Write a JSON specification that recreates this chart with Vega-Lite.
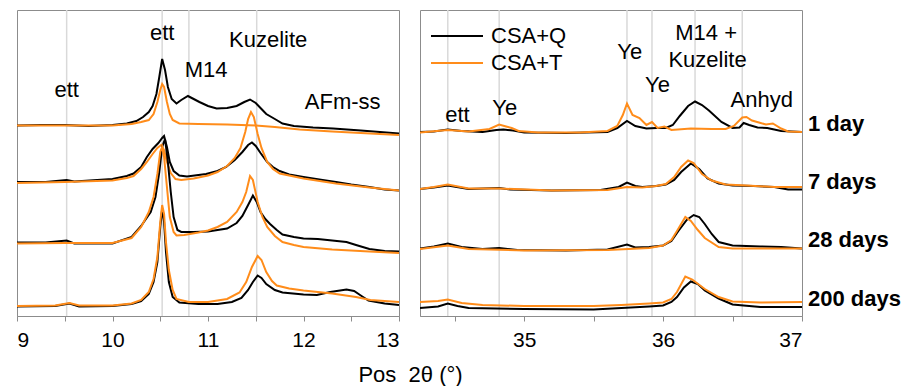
{
  "$schema": "https://vega.github.io/schema/vega-lite/v6.json",
  "padding": {"left": 16, "top": 8, "right": 0, "bottom": 0},
  "background": "white",
  "config": {
    "font": "Liberation Sans",
    "view": {"stroke": "#8c8c8c", "strokeWidth": 1},
    "axis": {"domainColor": "#8c8c8c", "tickColor": "#8c8c8c", "tickSize": 5, "labelFontSize": 21, "labelColor": "#000", "labelPadding": 6, "grid": false, "labelFont": "Liberation Sans", "titleFont": "Liberation Sans", "titleFontSize": 22, "titleFontWeight": "normal", "titleColor": "#000"},
    "legend": {"labelFont": "Liberation Sans"}
  },
  "bounds": "flush",
  "spacing": 21,
  "resolve": {"legend": {"color": "independent"}, "scale": {"x": "independent"}},
  "datasets": {
    "gridL": [{"x": 9.52}, {"x": 10.52}, {"x": 10.8}, {"x": 11.51}],
    "gridR": [{"x": 34.45}, {"x": 34.82}, {"x": 35.74}, {"x": 35.92}, {"x": 36.23}, {"x": 36.57}],
    "labL": [
      {"t": "ett", "x": 9.52, "y": 226},
      {"t": "ett", "x": 10.52, "y": 283},
      {"t": "M14", "x": 10.98, "y": 246},
      {"t": "Kuzelite", "x": 11.63, "y": 276},
      {"t": "AFm-ss", "x": 12.41, "y": 214}
    ],
    "labR": [
      {"t": "ett", "x": 34.52, "y": 201},
      {"t": "Ye", "x": 34.86, "y": 208},
      {"t": "Ye", "x": 35.76, "y": 264},
      {"t": "Ye", "x": 35.96, "y": 231},
      {"t": "M14 +", "x": 36.31, "y": 283},
      {"t": "Kuzelite", "x": 36.32, "y": 256},
      {"t": "Anhyd", "x": 36.71, "y": 216}
    ],
    "days": [
      {"t": "1 day", "x": 37, "y": 192},
      {"t": "7 days", "x": 37, "y": 134},
      {"t": "28 days", "x": 37, "y": 76},
      {"t": "200 days", "x": 37, "y": 17}
    ],
    "left": [
      {"s":"CSA+Q","a":"1","x":9.0,"y":190.5},{"s":"CSA+Q","a":"1","x":9.25,"y":191},{"s":"CSA+Q","a":"1","x":9.5,"y":191},{"s":"CSA+Q","a":"1","x":9.75,"y":190},{"s":"CSA+Q","a":"1","x":10.0,"y":191},{"s":"CSA+Q","a":"1","x":10.15,"y":192.5},{"s":"CSA+Q","a":"1","x":10.25,"y":195},{"s":"CSA+Q","a":"1","x":10.32,"y":199},{"s":"CSA+Q","a":"1","x":10.38,"y":204},{"s":"CSA+Q","a":"1","x":10.42,"y":210},{"s":"CSA+Q","a":"1","x":10.46,"y":222},{"s":"CSA+Q","a":"1","x":10.49,"y":239},{"s":"CSA+Q","a":"1","x":10.52,"y":257},{"s":"CSA+Q","a":"1","x":10.55,"y":246},{"s":"CSA+Q","a":"1","x":10.58,"y":229},{"s":"CSA+Q","a":"1","x":10.62,"y":217},{"s":"CSA+Q","a":"1","x":10.67,"y":212.5},{"s":"CSA+Q","a":"1","x":10.72,"y":216},{"s":"CSA+Q","a":"1","x":10.79,"y":220},{"s":"CSA+Q","a":"1","x":10.85,"y":217},{"s":"CSA+Q","a":"1","x":10.91,"y":214},{"s":"CSA+Q","a":"1","x":11.0,"y":210},{"s":"CSA+Q","a":"1","x":11.09,"y":207.5},{"s":"CSA+Q","a":"1","x":11.2,"y":208},{"s":"CSA+Q","a":"1","x":11.3,"y":210},{"s":"CSA+Q","a":"1","x":11.38,"y":214},{"s":"CSA+Q","a":"1","x":11.44,"y":216.5},{"s":"CSA+Q","a":"1","x":11.5,"y":213},{"s":"CSA+Q","a":"1","x":11.56,"y":207},{"s":"CSA+Q","a":"1","x":11.61,"y":202},{"s":"CSA+Q","a":"1","x":11.7,"y":197},{"s":"CSA+Q","a":"1","x":11.78,"y":192.5},{"s":"CSA+Q","a":"1","x":11.9,"y":190},{"s":"CSA+Q","a":"1","x":12.1,"y":188.5},{"s":"CSA+Q","a":"1","x":12.31,"y":187.5},{"s":"CSA+Q","a":"1","x":12.6,"y":185.5},{"s":"CSA+Q","a":"1","x":12.8,"y":184},{"s":"CSA+Q","a":"1","x":13.0,"y":182.5},
      {"s":"CSA+T","a":"1","x":9.0,"y":190.5},{"s":"CSA+T","a":"1","x":9.5,"y":190.5},{"s":"CSA+T","a":"1","x":10.0,"y":190.5},{"s":"CSA+T","a":"1","x":10.2,"y":192},{"s":"CSA+T","a":"1","x":10.3,"y":194},{"s":"CSA+T","a":"1","x":10.38,"y":196},{"s":"CSA+T","a":"1","x":10.43,"y":202},{"s":"CSA+T","a":"1","x":10.47,"y":214},{"s":"CSA+T","a":"1","x":10.5,"y":226},{"s":"CSA+T","a":"1","x":10.52,"y":232},{"s":"CSA+T","a":"1","x":10.54,"y":229},{"s":"CSA+T","a":"1","x":10.57,"y":214},{"s":"CSA+T","a":"1","x":10.6,"y":202},{"s":"CSA+T","a":"1","x":10.63,"y":196},{"s":"CSA+T","a":"1","x":10.7,"y":192.5},{"s":"CSA+T","a":"1","x":10.9,"y":192},{"s":"CSA+T","a":"1","x":11.2,"y":191.5},{"s":"CSA+T","a":"1","x":11.5,"y":190.5},{"s":"CSA+T","a":"1","x":11.7,"y":189},{"s":"CSA+T","a":"1","x":11.96,"y":186.5},{"s":"CSA+T","a":"1","x":12.3,"y":184.5},{"s":"CSA+T","a":"1","x":12.7,"y":182.5},{"s":"CSA+T","a":"1","x":13.0,"y":181},
      {"s":"CSA+Q","a":"7","x":9.0,"y":134},{"s":"CSA+Q","a":"7","x":9.3,"y":134},{"s":"CSA+Q","a":"7","x":9.52,"y":136},{"s":"CSA+Q","a":"7","x":9.6,"y":134.5},{"s":"CSA+Q","a":"7","x":10.0,"y":137},{"s":"CSA+Q","a":"7","x":10.15,"y":140},{"s":"CSA+Q","a":"7","x":10.22,"y":142.5},{"s":"CSA+Q","a":"7","x":10.3,"y":149},{"s":"CSA+Q","a":"7","x":10.36,"y":159},{"s":"CSA+Q","a":"7","x":10.42,"y":167},{"s":"CSA+Q","a":"7","x":10.48,"y":173},{"s":"CSA+Q","a":"7","x":10.52,"y":178},{"s":"CSA+Q","a":"7","x":10.54,"y":180},{"s":"CSA+Q","a":"7","x":10.57,"y":169},{"s":"CSA+Q","a":"7","x":10.6,"y":154},{"s":"CSA+Q","a":"7","x":10.64,"y":145},{"s":"CSA+Q","a":"7","x":10.7,"y":140.5},{"s":"CSA+Q","a":"7","x":10.78,"y":139.5},{"s":"CSA+Q","a":"7","x":10.98,"y":142},{"s":"CSA+Q","a":"7","x":11.1,"y":145},{"s":"CSA+Q","a":"7","x":11.19,"y":149},{"s":"CSA+Q","a":"7","x":11.28,"y":156},{"s":"CSA+Q","a":"7","x":11.36,"y":164},{"s":"CSA+Q","a":"7","x":11.42,"y":171},{"s":"CSA+Q","a":"7","x":11.46,"y":173.5},{"s":"CSA+Q","a":"7","x":11.5,"y":170},{"s":"CSA+Q","a":"7","x":11.55,"y":163},{"s":"CSA+Q","a":"7","x":11.62,"y":154},{"s":"CSA+Q","a":"7","x":11.68,"y":149},{"s":"CSA+Q","a":"7","x":11.75,"y":145},{"s":"CSA+Q","a":"7","x":11.85,"y":141.5},{"s":"CSA+Q","a":"7","x":12.0,"y":139},{"s":"CSA+Q","a":"7","x":12.2,"y":136},{"s":"CSA+Q","a":"7","x":12.34,"y":134},{"s":"CSA+Q","a":"7","x":12.5,"y":131.5},{"s":"CSA+Q","a":"7","x":12.69,"y":129},{"s":"CSA+Q","a":"7","x":12.85,"y":126.5},{"s":"CSA+Q","a":"7","x":13.0,"y":125.5},
      {"s":"CSA+T","a":"7","x":9.0,"y":133},{"s":"CSA+T","a":"7","x":9.5,"y":134},{"s":"CSA+T","a":"7","x":10.0,"y":135.5},{"s":"CSA+T","a":"7","x":10.15,"y":138},{"s":"CSA+T","a":"7","x":10.22,"y":140},{"s":"CSA+T","a":"7","x":10.3,"y":147},{"s":"CSA+T","a":"7","x":10.36,"y":154},{"s":"CSA+T","a":"7","x":10.42,"y":162},{"s":"CSA+T","a":"7","x":10.47,"y":168},{"s":"CSA+T","a":"7","x":10.51,"y":171},{"s":"CSA+T","a":"7","x":10.54,"y":166},{"s":"CSA+T","a":"7","x":10.57,"y":154},{"s":"CSA+T","a":"7","x":10.61,"y":143},{"s":"CSA+T","a":"7","x":10.66,"y":137},{"s":"CSA+T","a":"7","x":10.72,"y":136},{"s":"CSA+T","a":"7","x":10.85,"y":137.5},{"s":"CSA+T","a":"7","x":11.0,"y":140.5},{"s":"CSA+T","a":"7","x":11.1,"y":144},{"s":"CSA+T","a":"7","x":11.2,"y":150},{"s":"CSA+T","a":"7","x":11.28,"y":158},{"s":"CSA+T","a":"7","x":11.34,"y":168},{"s":"CSA+T","a":"7","x":11.39,"y":184},{"s":"CSA+T","a":"7","x":11.42,"y":197},{"s":"CSA+T","a":"7","x":11.45,"y":204},{"s":"CSA+T","a":"7","x":11.48,"y":199},{"s":"CSA+T","a":"7","x":11.52,"y":182},{"s":"CSA+T","a":"7","x":11.56,"y":168},{"s":"CSA+T","a":"7","x":11.62,"y":154},{"s":"CSA+T","a":"7","x":11.68,"y":147},{"s":"CSA+T","a":"7","x":11.75,"y":142.5},{"s":"CSA+T","a":"7","x":11.9,"y":139.5},{"s":"CSA+T","a":"7","x":12.0,"y":137.5},{"s":"CSA+T","a":"7","x":12.34,"y":132.5},{"s":"CSA+T","a":"7","x":12.69,"y":128.5},{"s":"CSA+T","a":"7","x":13.0,"y":125.5},
      {"s":"CSA+Q","a":"28","x":9.0,"y":73.5},{"s":"CSA+Q","a":"28","x":9.3,"y":73.5},{"s":"CSA+Q","a":"28","x":9.52,"y":75.5},{"s":"CSA+Q","a":"28","x":9.6,"y":72.5},{"s":"CSA+Q","a":"28","x":10.0,"y":72.5},{"s":"CSA+Q","a":"28","x":10.2,"y":79},{"s":"CSA+Q","a":"28","x":10.3,"y":90},{"s":"CSA+Q","a":"28","x":10.4,"y":104},{"s":"CSA+Q","a":"28","x":10.45,"y":119},{"s":"CSA+Q","a":"28","x":10.49,"y":144},{"s":"CSA+Q","a":"28","x":10.52,"y":169},{"s":"CSA+Q","a":"28","x":10.55,"y":177},{"s":"CSA+Q","a":"28","x":10.58,"y":154},{"s":"CSA+Q","a":"28","x":10.61,"y":124},{"s":"CSA+Q","a":"28","x":10.64,"y":99},{"s":"CSA+Q","a":"28","x":10.68,"y":86},{"s":"CSA+Q","a":"28","x":10.72,"y":84},{"s":"CSA+Q","a":"28","x":10.85,"y":84},{"s":"CSA+Q","a":"28","x":11.0,"y":84.5},{"s":"CSA+Q","a":"28","x":11.2,"y":87.5},{"s":"CSA+Q","a":"28","x":11.3,"y":93},{"s":"CSA+Q","a":"28","x":11.36,"y":100},{"s":"CSA+Q","a":"28","x":11.42,"y":111},{"s":"CSA+Q","a":"28","x":11.47,"y":120.5},{"s":"CSA+Q","a":"28","x":11.51,"y":114},{"s":"CSA+Q","a":"28","x":11.55,"y":104},{"s":"CSA+Q","a":"28","x":11.6,"y":97},{"s":"CSA+Q","a":"28","x":11.65,"y":92},{"s":"CSA+Q","a":"28","x":11.72,"y":86},{"s":"CSA+Q","a":"28","x":11.78,"y":81.5},{"s":"CSA+Q","a":"28","x":11.9,"y":79},{"s":"CSA+Q","a":"28","x":12.0,"y":77.5},{"s":"CSA+Q","a":"28","x":12.15,"y":77},{"s":"CSA+Q","a":"28","x":12.3,"y":75.5},{"s":"CSA+Q","a":"28","x":12.45,"y":74},{"s":"CSA+Q","a":"28","x":12.55,"y":71},{"s":"CSA+Q","a":"28","x":12.69,"y":67},{"s":"CSA+Q","a":"28","x":12.85,"y":65},{"s":"CSA+Q","a":"28","x":13.0,"y":64.5},
      {"s":"CSA+T","a":"28","x":9.0,"y":72.5},{"s":"CSA+T","a":"28","x":9.5,"y":73},{"s":"CSA+T","a":"28","x":10.0,"y":73},{"s":"CSA+T","a":"28","x":10.2,"y":78},{"s":"CSA+T","a":"28","x":10.3,"y":89},{"s":"CSA+T","a":"28","x":10.38,"y":104},{"s":"CSA+T","a":"28","x":10.43,"y":119},{"s":"CSA+T","a":"28","x":10.47,"y":142},{"s":"CSA+T","a":"28","x":10.5,"y":164},{"s":"CSA+T","a":"28","x":10.52,"y":169},{"s":"CSA+T","a":"28","x":10.54,"y":159},{"s":"CSA+T","a":"28","x":10.57,"y":129},{"s":"CSA+T","a":"28","x":10.6,"y":99},{"s":"CSA+T","a":"28","x":10.64,"y":84},{"s":"CSA+T","a":"28","x":10.67,"y":80.5},{"s":"CSA+T","a":"28","x":10.75,"y":81},{"s":"CSA+T","a":"28","x":10.9,"y":83.5},{"s":"CSA+T","a":"28","x":11.0,"y":85.5},{"s":"CSA+T","a":"28","x":11.1,"y":89},{"s":"CSA+T","a":"28","x":11.2,"y":94},{"s":"CSA+T","a":"28","x":11.3,"y":104},{"s":"CSA+T","a":"28","x":11.36,"y":114},{"s":"CSA+T","a":"28","x":11.4,"y":124},{"s":"CSA+T","a":"28","x":11.44,"y":140},{"s":"CSA+T","a":"28","x":11.47,"y":136},{"s":"CSA+T","a":"28","x":11.52,"y":114},{"s":"CSA+T","a":"28","x":11.57,"y":99},{"s":"CSA+T","a":"28","x":11.62,"y":89},{"s":"CSA+T","a":"28","x":11.7,"y":80},{"s":"CSA+T","a":"28","x":11.78,"y":74},{"s":"CSA+T","a":"28","x":11.9,"y":71},{"s":"CSA+T","a":"28","x":12.0,"y":69},{"s":"CSA+T","a":"28","x":12.3,"y":66.5},{"s":"CSA+T","a":"28","x":12.69,"y":64.5},{"s":"CSA+T","a":"28","x":13.0,"y":63},
      {"s":"CSA+Q","a":"200","x":9.0,"y":9.5},{"s":"CSA+Q","a":"200","x":9.4,"y":10},{"s":"CSA+Q","a":"200","x":9.55,"y":12.5},{"s":"CSA+Q","a":"200","x":9.65,"y":9.5},{"s":"CSA+Q","a":"200","x":10.0,"y":10},{"s":"CSA+Q","a":"200","x":10.2,"y":12},{"s":"CSA+Q","a":"200","x":10.3,"y":15},{"s":"CSA+Q","a":"200","x":10.38,"y":22},{"s":"CSA+Q","a":"200","x":10.43,"y":34},{"s":"CSA+Q","a":"200","x":10.47,"y":54},{"s":"CSA+Q","a":"200","x":10.5,"y":89},{"s":"CSA+Q","a":"200","x":10.52,"y":107},{"s":"CSA+Q","a":"200","x":10.54,"y":94},{"s":"CSA+Q","a":"200","x":10.56,"y":64},{"s":"CSA+Q","a":"200","x":10.59,"y":34},{"s":"CSA+Q","a":"200","x":10.63,"y":19},{"s":"CSA+Q","a":"200","x":10.7,"y":13.5},{"s":"CSA+Q","a":"200","x":10.9,"y":12},{"s":"CSA+Q","a":"200","x":11.1,"y":12},{"s":"CSA+Q","a":"200","x":11.25,"y":14},{"s":"CSA+Q","a":"200","x":11.35,"y":18},{"s":"CSA+Q","a":"200","x":11.42,"y":26},{"s":"CSA+Q","a":"200","x":11.47,"y":34},{"s":"CSA+Q","a":"200","x":11.52,"y":40.5},{"s":"CSA+Q","a":"200","x":11.56,"y":38},{"s":"CSA+Q","a":"200","x":11.61,"y":32},{"s":"CSA+Q","a":"200","x":11.7,"y":26},{"s":"CSA+Q","a":"200","x":11.78,"y":23.5},{"s":"CSA+Q","a":"200","x":12.0,"y":21.5},{"s":"CSA+Q","a":"200","x":12.14,"y":21},{"s":"CSA+Q","a":"200","x":12.28,"y":24},{"s":"CSA+Q","a":"200","x":12.45,"y":26.5},{"s":"CSA+Q","a":"200","x":12.53,"y":25},{"s":"CSA+Q","a":"200","x":12.6,"y":20.5},{"s":"CSA+Q","a":"200","x":12.68,"y":15.5},{"s":"CSA+Q","a":"200","x":12.85,"y":12.5},{"s":"CSA+Q","a":"200","x":13.0,"y":11},
      {"s":"CSA+T","a":"200","x":9.0,"y":10},{"s":"CSA+T","a":"200","x":9.4,"y":10.5},{"s":"CSA+T","a":"200","x":9.55,"y":13},{"s":"CSA+T","a":"200","x":9.65,"y":10.5},{"s":"CSA+T","a":"200","x":10.0,"y":10.5},{"s":"CSA+T","a":"200","x":10.2,"y":12.5},{"s":"CSA+T","a":"200","x":10.3,"y":16},{"s":"CSA+T","a":"200","x":10.38,"y":24},{"s":"CSA+T","a":"200","x":10.43,"y":37},{"s":"CSA+T","a":"200","x":10.47,"y":59},{"s":"CSA+T","a":"200","x":10.5,"y":94},{"s":"CSA+T","a":"200","x":10.52,"y":111},{"s":"CSA+T","a":"200","x":10.54,"y":102},{"s":"CSA+T","a":"200","x":10.56,"y":74},{"s":"CSA+T","a":"200","x":10.59,"y":46},{"s":"CSA+T","a":"200","x":10.63,"y":26},{"s":"CSA+T","a":"200","x":10.67,"y":17},{"s":"CSA+T","a":"200","x":10.8,"y":14},{"s":"CSA+T","a":"200","x":11.0,"y":14},{"s":"CSA+T","a":"200","x":11.2,"y":17},{"s":"CSA+T","a":"200","x":11.33,"y":23.5},{"s":"CSA+T","a":"200","x":11.4,"y":34},{"s":"CSA+T","a":"200","x":11.46,"y":49},{"s":"CSA+T","a":"200","x":11.52,"y":60},{"s":"CSA+T","a":"200","x":11.56,"y":56},{"s":"CSA+T","a":"200","x":11.61,"y":44},{"s":"CSA+T","a":"200","x":11.67,"y":35},{"s":"CSA+T","a":"200","x":11.72,"y":30.5},{"s":"CSA+T","a":"200","x":11.85,"y":27.5},{"s":"CSA+T","a":"200","x":12.0,"y":25.5},{"s":"CSA+T","a":"200","x":12.3,"y":22.5},{"s":"CSA+T","a":"200","x":12.55,"y":19},{"s":"CSA+T","a":"200","x":12.7,"y":16},{"s":"CSA+T","a":"200","x":13.0,"y":14}
    ],
    "right": [
      {"s":"CSA+Q","a":"1","x":34.25,"y":184},{"s":"CSA+Q","a":"1","x":34.35,"y":184.5},{"s":"CSA+Q","a":"1","x":34.45,"y":186.5},{"s":"CSA+Q","a":"1","x":34.55,"y":185},{"s":"CSA+Q","a":"1","x":34.7,"y":184},{"s":"CSA+Q","a":"1","x":34.8,"y":186},{"s":"CSA+Q","a":"1","x":34.85,"y":186.5},{"s":"CSA+Q","a":"1","x":34.92,"y":185.5},{"s":"CSA+Q","a":"1","x":35.0,"y":183.5},{"s":"CSA+Q","a":"1","x":35.3,"y":183},{"s":"CSA+Q","a":"1","x":35.6,"y":184},{"s":"CSA+Q","a":"1","x":35.67,"y":188},{"s":"CSA+Q","a":"1","x":35.74,"y":195},{"s":"CSA+Q","a":"1","x":35.8,"y":190},{"s":"CSA+Q","a":"1","x":35.88,"y":187.5},{"s":"CSA+Q","a":"1","x":35.95,"y":188},{"s":"CSA+Q","a":"1","x":36.02,"y":188},{"s":"CSA+Q","a":"1","x":36.07,"y":191},{"s":"CSA+Q","a":"1","x":36.12,"y":200},{"s":"CSA+Q","a":"1","x":36.18,"y":210},{"s":"CSA+Q","a":"1","x":36.23,"y":214.5},{"s":"CSA+Q","a":"1","x":36.28,"y":211},{"s":"CSA+Q","a":"1","x":36.33,"y":205.5},{"s":"CSA+Q","a":"1","x":36.42,"y":194},{"s":"CSA+Q","a":"1","x":36.5,"y":188},{"s":"CSA+Q","a":"1","x":36.55,"y":188.5},{"s":"CSA+Q","a":"1","x":36.58,"y":193},{"s":"CSA+Q","a":"1","x":36.62,"y":191},{"s":"CSA+Q","a":"1","x":36.68,"y":188.5},{"s":"CSA+Q","a":"1","x":36.75,"y":188},{"s":"CSA+Q","a":"1","x":36.85,"y":185},{"s":"CSA+Q","a":"1","x":37.0,"y":184},
      {"s":"CSA+T","a":"1","x":34.25,"y":183.5},{"s":"CSA+T","a":"1","x":34.45,"y":186},{"s":"CSA+T","a":"1","x":34.6,"y":184.5},{"s":"CSA+T","a":"1","x":34.75,"y":187},{"s":"CSA+T","a":"1","x":34.82,"y":191.5},{"s":"CSA+T","a":"1","x":34.87,"y":189.5},{"s":"CSA+T","a":"1","x":34.91,"y":188},{"s":"CSA+T","a":"1","x":34.96,"y":185},{"s":"CSA+T","a":"1","x":35.1,"y":183.5},{"s":"CSA+T","a":"1","x":35.4,"y":183.5},{"s":"CSA+T","a":"1","x":35.6,"y":185},{"s":"CSA+T","a":"1","x":35.67,"y":190},{"s":"CSA+T","a":"1","x":35.71,"y":201},{"s":"CSA+T","a":"1","x":35.74,"y":212.5},{"s":"CSA+T","a":"1","x":35.78,"y":201},{"s":"CSA+T","a":"1","x":35.83,"y":198},{"s":"CSA+T","a":"1","x":35.88,"y":191},{"s":"CSA+T","a":"1","x":35.92,"y":194},{"s":"CSA+T","a":"1","x":35.96,"y":188},{"s":"CSA+T","a":"1","x":36.01,"y":189.5},{"s":"CSA+T","a":"1","x":36.06,"y":186},{"s":"CSA+T","a":"1","x":36.2,"y":187.5},{"s":"CSA+T","a":"1","x":36.35,"y":187},{"s":"CSA+T","a":"1","x":36.45,"y":187},{"s":"CSA+T","a":"1","x":36.51,"y":190},{"s":"CSA+T","a":"1","x":36.57,"y":198.5},{"s":"CSA+T","a":"1","x":36.6,"y":199},{"s":"CSA+T","a":"1","x":36.64,"y":195.5},{"s":"CSA+T","a":"1","x":36.69,"y":193.5},{"s":"CSA+T","a":"1","x":36.74,"y":191.5},{"s":"CSA+T","a":"1","x":36.79,"y":192.5},{"s":"CSA+T","a":"1","x":36.85,"y":187.5},{"s":"CSA+T","a":"1","x":36.9,"y":184.5},{"s":"CSA+T","a":"1","x":37.0,"y":184},
      {"s":"CSA+Q","a":"7","x":34.25,"y":127},{"s":"CSA+Q","a":"7","x":34.35,"y":128.5},{"s":"CSA+Q","a":"7","x":34.45,"y":130.5},{"s":"CSA+Q","a":"7","x":34.6,"y":127},{"s":"CSA+Q","a":"7","x":34.82,"y":128},{"s":"CSA+Q","a":"7","x":34.9,"y":126.5},{"s":"CSA+Q","a":"7","x":35.2,"y":125.5},{"s":"CSA+Q","a":"7","x":35.55,"y":126},{"s":"CSA+Q","a":"7","x":35.68,"y":129},{"s":"CSA+Q","a":"7","x":35.74,"y":133.5},{"s":"CSA+Q","a":"7","x":35.8,"y":130},{"s":"CSA+Q","a":"7","x":35.85,"y":129},{"s":"CSA+Q","a":"7","x":35.95,"y":130},{"s":"CSA+Q","a":"7","x":36.02,"y":131.5},{"s":"CSA+Q","a":"7","x":36.08,"y":136},{"s":"CSA+Q","a":"7","x":36.13,"y":144},{"s":"CSA+Q","a":"7","x":36.2,"y":152.5},{"s":"CSA+Q","a":"7","x":36.26,"y":147},{"s":"CSA+Q","a":"7","x":36.32,"y":137.5},{"s":"CSA+Q","a":"7","x":36.4,"y":132.5},{"s":"CSA+Q","a":"7","x":36.5,"y":130.5},{"s":"CSA+Q","a":"7","x":36.65,"y":130},{"s":"CSA+Q","a":"7","x":36.8,"y":129},{"s":"CSA+Q","a":"7","x":36.9,"y":126.5},{"s":"CSA+Q","a":"7","x":37.0,"y":126.5},
      {"s":"CSA+T","a":"7","x":34.25,"y":127},{"s":"CSA+T","a":"7","x":34.35,"y":129},{"s":"CSA+T","a":"7","x":34.45,"y":131.5},{"s":"CSA+T","a":"7","x":34.6,"y":127.5},{"s":"CSA+T","a":"7","x":34.82,"y":127.5},{"s":"CSA+T","a":"7","x":35.2,"y":125.5},{"s":"CSA+T","a":"7","x":35.6,"y":126},{"s":"CSA+T","a":"7","x":35.74,"y":129},{"s":"CSA+T","a":"7","x":35.85,"y":128.5},{"s":"CSA+T","a":"7","x":35.95,"y":130},{"s":"CSA+T","a":"7","x":36.02,"y":132},{"s":"CSA+T","a":"7","x":36.08,"y":139},{"s":"CSA+T","a":"7","x":36.13,"y":149},{"s":"CSA+T","a":"7","x":36.18,"y":155.5},{"s":"CSA+T","a":"7","x":36.22,"y":153},{"s":"CSA+T","a":"7","x":36.28,"y":142},{"s":"CSA+T","a":"7","x":36.35,"y":135.5},{"s":"CSA+T","a":"7","x":36.45,"y":131.5},{"s":"CSA+T","a":"7","x":36.6,"y":130.5},{"s":"CSA+T","a":"7","x":36.8,"y":129},{"s":"CSA+T","a":"7","x":37.0,"y":129},
      {"s":"CSA+Q","a":"28","x":34.25,"y":67.5},{"s":"CSA+Q","a":"28","x":34.35,"y":69.5},{"s":"CSA+Q","a":"28","x":34.45,"y":72.5},{"s":"CSA+Q","a":"28","x":34.55,"y":69},{"s":"CSA+Q","a":"28","x":34.7,"y":67},{"s":"CSA+Q","a":"28","x":34.82,"y":68},{"s":"CSA+Q","a":"28","x":34.95,"y":66},{"s":"CSA+Q","a":"28","x":35.3,"y":65.5},{"s":"CSA+Q","a":"28","x":35.6,"y":66.5},{"s":"CSA+Q","a":"28","x":35.74,"y":71.5},{"s":"CSA+Q","a":"28","x":35.8,"y":68.5},{"s":"CSA+Q","a":"28","x":35.9,"y":69},{"s":"CSA+Q","a":"28","x":36.0,"y":70.5},{"s":"CSA+Q","a":"28","x":36.06,"y":75},{"s":"CSA+Q","a":"28","x":36.11,"y":85},{"s":"CSA+Q","a":"28","x":36.17,"y":96},{"s":"CSA+Q","a":"28","x":36.22,"y":101},{"s":"CSA+Q","a":"28","x":36.26,"y":99},{"s":"CSA+Q","a":"28","x":36.3,"y":92},{"s":"CSA+Q","a":"28","x":36.35,"y":82},{"s":"CSA+Q","a":"28","x":36.4,"y":74},{"s":"CSA+Q","a":"28","x":36.5,"y":70.5},{"s":"CSA+Q","a":"28","x":36.7,"y":69.5},{"s":"CSA+Q","a":"28","x":36.85,"y":69},{"s":"CSA+Q","a":"28","x":37.0,"y":67.5},
      {"s":"CSA+T","a":"28","x":34.25,"y":67},{"s":"CSA+T","a":"28","x":34.45,"y":70.5},{"s":"CSA+T","a":"28","x":34.6,"y":67},{"s":"CSA+T","a":"28","x":35.0,"y":65.5},{"s":"CSA+T","a":"28","x":35.6,"y":66},{"s":"CSA+T","a":"28","x":35.9,"y":68},{"s":"CSA+T","a":"28","x":36.0,"y":70.5},{"s":"CSA+T","a":"28","x":36.06,"y":76},{"s":"CSA+T","a":"28","x":36.1,"y":85},{"s":"CSA+T","a":"28","x":36.16,"y":99},{"s":"CSA+T","a":"28","x":36.2,"y":95},{"s":"CSA+T","a":"28","x":36.25,"y":86},{"s":"CSA+T","a":"28","x":36.3,"y":78},{"s":"CSA+T","a":"28","x":36.4,"y":69},{"s":"CSA+T","a":"28","x":36.5,"y":67.5},{"s":"CSA+T","a":"28","x":37.0,"y":67.5},
      {"s":"CSA+Q","a":"200","x":34.25,"y":8},{"s":"CSA+Q","a":"200","x":34.38,"y":9.5},{"s":"CSA+Q","a":"200","x":34.45,"y":12.5},{"s":"CSA+Q","a":"200","x":34.52,"y":10},{"s":"CSA+Q","a":"200","x":34.6,"y":8},{"s":"CSA+Q","a":"200","x":35.0,"y":7},{"s":"CSA+Q","a":"200","x":35.5,"y":6.5},{"s":"CSA+Q","a":"200","x":35.7,"y":8},{"s":"CSA+Q","a":"200","x":35.9,"y":9.5},{"s":"CSA+Q","a":"200","x":36.0,"y":10.5},{"s":"CSA+Q","a":"200","x":36.06,"y":14},{"s":"CSA+Q","a":"200","x":36.1,"y":19},{"s":"CSA+Q","a":"200","x":36.15,"y":28.5},{"s":"CSA+Q","a":"200","x":36.2,"y":34.5},{"s":"CSA+Q","a":"200","x":36.25,"y":32},{"s":"CSA+Q","a":"200","x":36.3,"y":25.5},{"s":"CSA+Q","a":"200","x":36.4,"y":17.5},{"s":"CSA+Q","a":"200","x":36.5,"y":11.5},{"s":"CSA+Q","a":"200","x":36.7,"y":9},{"s":"CSA+Q","a":"200","x":37.0,"y":9},
      {"s":"CSA+T","a":"200","x":34.25,"y":14},{"s":"CSA+T","a":"200","x":34.38,"y":15},{"s":"CSA+T","a":"200","x":34.45,"y":16.5},{"s":"CSA+T","a":"200","x":34.55,"y":13},{"s":"CSA+T","a":"200","x":34.7,"y":11},{"s":"CSA+T","a":"200","x":35.0,"y":10},{"s":"CSA+T","a":"200","x":35.5,"y":10},{"s":"CSA+T","a":"200","x":35.7,"y":11},{"s":"CSA+T","a":"200","x":35.9,"y":12.5},{"s":"CSA+T","a":"200","x":36.0,"y":13.5},{"s":"CSA+T","a":"200","x":36.06,"y":17},{"s":"CSA+T","a":"200","x":36.1,"y":24},{"s":"CSA+T","a":"200","x":36.16,"y":39.5},{"s":"CSA+T","a":"200","x":36.21,"y":36.5},{"s":"CSA+T","a":"200","x":36.3,"y":27},{"s":"CSA+T","a":"200","x":36.4,"y":19},{"s":"CSA+T","a":"200","x":36.5,"y":14.5},{"s":"CSA+T","a":"200","x":36.7,"y":13.5},{"s":"CSA+T","a":"200","x":37.0,"y":14}
    ]
  },
  "hconcat": [
    {
      "width": 382,
      "height": 306,
      "layer": [
        {
          "data": {"name": "gridL"},
          "mark": {"type": "rule", "color": "#d9d9d9", "strokeWidth": 1.5},
          "encoding": {"x": {"field": "x", "type": "quantitative", "scale": {"domain": [9, 13], "nice": false, "zero": false}}}
        },
        {
          "data": {"name": "left"},
          "mark": {"type": "line", "strokeWidth": 2, "clip": true},
          "encoding": {
            "x": {"field": "x", "type": "quantitative", "scale": {"domain": [9, 13], "nice": false, "zero": false},
              "axis": {"values": [9, 9.5, 10, 10.5, 11, 11.5, 12, 12.5, 13], "labelExpr": "datum.value % 1 == 0 ? format(datum.value, 'd') : ''", "title": null, "labelPadding": 8}},
            "y": {"field": "y", "type": "quantitative", "scale": {"domain": [0, 306], "nice": false, "zero": false}, "axis": null},
            "color": {"field": "s", "type": "nominal", "scale": {"domain": ["CSA+Q", "CSA+T"], "range": ["#000000", "#ff8c1a"]}, "legend": null},
            "detail": {"field": "a"},
            "order": {"field": "x", "type": "quantitative"}
          }
        },
        {
          "data": {"name": "labL"},
          "mark": {"type": "text", "fontSize": 22, "font": "Liberation Sans", "color": "#000", "baseline": "middle", "align": "center"},
          "encoding": {
            "x": {"field": "x", "type": "quantitative"},
            "y": {"field": "y", "type": "quantitative"},
            "text": {"field": "t"}
          }
        }
      ]
    },
    {
      "width": 382,
      "height": 306,
      "layer": [
        {
          "data": {"name": "gridR"},
          "mark": {"type": "rule", "color": "#d9d9d9", "strokeWidth": 1.5},
          "encoding": {"x": {"field": "x", "type": "quantitative", "scale": {"domain": [34.25, 37], "nice": false, "zero": false}}}
        },
        {
          "data": {"name": "right"},
          "mark": {"type": "line", "strokeWidth": 2, "clip": true},
          "encoding": {
            "x": {"field": "x", "type": "quantitative", "scale": {"domain": [34.25, 37], "nice": false, "zero": false},
              "axis": {"values": [34.5, 35, 35.5, 36, 36.5, 37], "labelExpr": "datum.value % 1 == 0 ? format(datum.value, 'd') : ''", "title": "Pos\u00a0\u00a02θ (°)", "titleX": -10, "titleY": 65, "titleAlign": "center", "titleBaseline": "alphabetic", "labelPadding": 8}},
            "y": {"field": "y", "type": "quantitative", "scale": {"domain": [0, 306], "nice": false, "zero": false}, "axis": null},
            "color": {"field": "s", "type": "nominal", "scale": {"domain": ["CSA+Q", "CSA+T"], "range": ["#000000", "#ff8c1a"]},
              "legend": {"title": null, "orient": "none", "legendX": 23, "legendY": 12, "symbolType": "M-2,0H2", "symbolSize": 676, "symbolStrokeWidth": 2, "labelFontSize": 22, "labelColor": "#000", "labelOffset": 20, "rowPadding": 2}},
            "detail": {"field": "a"},
            "order": {"field": "x", "type": "quantitative"}
          }
        },
        {
          "data": {"name": "labR"},
          "mark": {"type": "text", "fontSize": 22, "font": "Liberation Sans", "color": "#000", "baseline": "middle", "align": "center"},
          "encoding": {
            "x": {"field": "x", "type": "quantitative"},
            "y": {"field": "y", "type": "quantitative"},
            "text": {"field": "t"}
          }
        },
        {
          "data": {"name": "days"},
          "mark": {"type": "text", "fontSize": 22, "fontWeight": "bold", "font": "Liberation Sans", "color": "#000", "baseline": "middle", "align": "left", "dx": 6},
          "encoding": {
            "x": {"field": "x", "type": "quantitative"},
            "y": {"field": "y", "type": "quantitative"},
            "text": {"field": "t"}
          }
        }
      ]
    }
  ]
}
